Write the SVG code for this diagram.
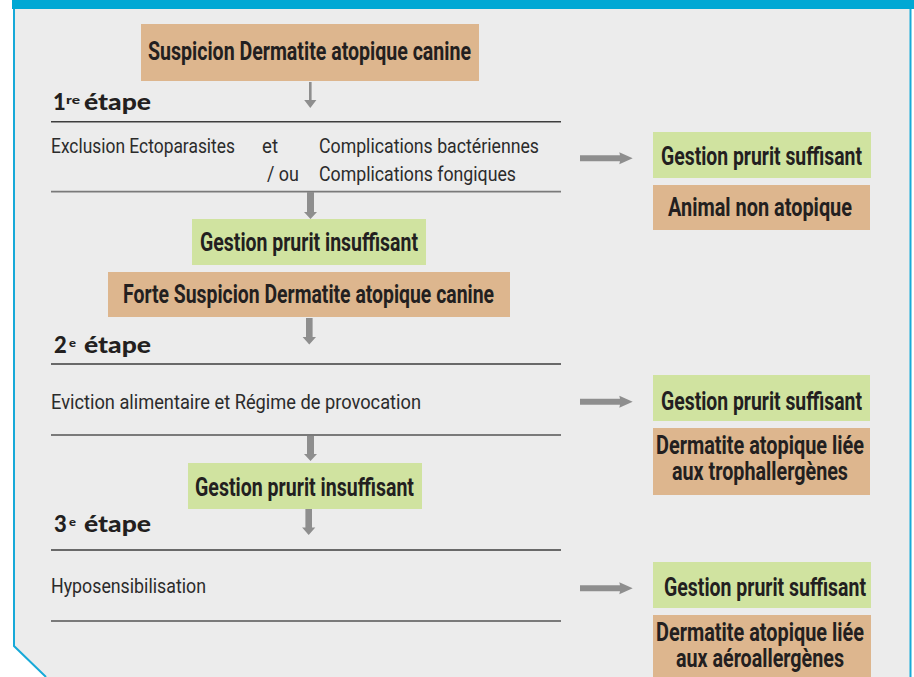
<svg xmlns="http://www.w3.org/2000/svg" width="914" height="677" viewBox="0 0 914 677">
<defs>
<style>
.bg{fill:#ececec}
.frame{fill:none;stroke:#17a9d8;stroke-width:2}
.tan{fill:#ddb68e}
.green{fill:#d0e3a0}
.bt{font-family:"Liberation Sans Narrow",Roboto,"Liberation Sans",sans-serif;font-weight:700;font-size:26px;fill:#231f20}
.rt{font-family:"Liberation Sans Narrow",Roboto,"Liberation Sans",sans-serif;font-weight:400;font-size:21px;fill:#2b2b2b}
.st{font-family:Lato,"Noto Sans",sans-serif;font-weight:900;font-size:22px;fill:#231f20}
.sup{font-family:Lato,"Noto Sans",sans-serif;font-weight:900;font-size:12px;fill:#231f20}
.ld{stroke:#3e3e3e;stroke-width:1.6}
.ll{stroke:#7a7a7a;stroke-width:1.8}
.arr{fill:#8e8e8e}
</style>
</defs>
<polygon class="bg" points="14,9 911,9 911,677 46,677 14,646"/>
<polyline class="frame" points="14,9 14,646 46,677"/>
<line class="frame" x1="910.5" y1="9" x2="910.5" y2="677"/>
<rect x="12" y="0" width="902" height="9" fill="#00a8d4"/>

<g id="n-suspicion">
<rect class="tan" x="141" y="24" width="338" height="57"/>
<text class="bt" x="148" y="60" textLength="323" lengthAdjust="spacingAndGlyphs">Suspicion Dermatite atopique canine</text>
</g>

<g id="n-etape1">
<text class="st" x="53" y="110">1</text>
<text class="sup" x="66" y="104" textLength="14" lengthAdjust="spacingAndGlyphs">re</text>
<text class="st" x="84" y="110" textLength="67" lengthAdjust="spacingAndGlyphs">étape</text>
<line class="ld" x1="51" y1="121.7" x2="561" y2="121.7"/>
<text class="rt" x="51" y="153" textLength="184" lengthAdjust="spacingAndGlyphs">Exclusion Ectoparasites</text>
<text class="rt" x="262" y="153" textLength="16" lengthAdjust="spacingAndGlyphs">et</text>
<text class="rt" x="319" y="153" textLength="220" lengthAdjust="spacingAndGlyphs">Complications bactériennes</text>
<text class="rt" x="267" y="181" textLength="32" lengthAdjust="spacingAndGlyphs">/ ou</text>
<text class="rt" x="319" y="181" textLength="197" lengthAdjust="spacingAndGlyphs">Complications fongiques</text>
<line class="ll" x1="51" y1="191.7" x2="561" y2="191.7"/>
</g>

<g id="n-suffisant1">
<rect class="green" x="653" y="132" width="218" height="46"/>
<text class="bt" x="661" y="165" textLength="201" lengthAdjust="spacingAndGlyphs">Gestion prurit suffisant</text>
</g>
<g id="n-nonatopique">
<rect class="tan" x="653" y="185" width="217" height="45"/>
<text class="bt" x="668" y="216" textLength="184" lengthAdjust="spacingAndGlyphs">Animal non atopique</text>
</g>

<g id="n-insuffisant1">
<rect class="green" x="192" y="219" width="234" height="46"/>
<text class="bt" x="200" y="251" textLength="218" lengthAdjust="spacingAndGlyphs">Gestion prurit insuffisant</text>
</g>
<g id="n-forte">
<rect class="tan" x="108" y="272" width="402" height="45"/>
<text class="bt" x="123" y="303" textLength="371" lengthAdjust="spacingAndGlyphs">Forte Suspicion Dermatite atopique canine</text>
</g>

<g id="n-etape2">
<text class="st" x="54" y="353">2</text>
<text class="sup" x="69" y="347" textLength="7" lengthAdjust="spacingAndGlyphs">e</text>
<text class="st" x="84" y="353" textLength="67" lengthAdjust="spacingAndGlyphs">étape</text>
<line class="ld" x1="51" y1="364" x2="561" y2="364"/>
<text class="rt" x="51" y="409" textLength="370" lengthAdjust="spacingAndGlyphs">Eviction alimentaire et Régime de provocation</text>
<line class="ll" x1="51" y1="435" x2="561" y2="435"/>
</g>

<g id="n-suffisant2">
<rect class="green" x="653" y="375" width="217" height="46"/>
<text class="bt" x="661" y="410" textLength="201" lengthAdjust="spacingAndGlyphs">Gestion prurit suffisant</text>
</g>
<g id="n-tropho">
<rect class="tan" x="653" y="428" width="217" height="67"/>
<text class="bt" x="656" y="454" textLength="208" lengthAdjust="spacingAndGlyphs">Dermatite atopique liée</text>
<text class="bt" x="672" y="480" textLength="176" lengthAdjust="spacingAndGlyphs">aux trophallergènes</text>
</g>

<g id="n-insuffisant2">
<rect class="green" x="188" y="463" width="234" height="46"/>
<text class="bt" x="195" y="496" textLength="219" lengthAdjust="spacingAndGlyphs">Gestion prurit insuffisant</text>
</g>

<g id="n-etape3">
<text class="st" x="54" y="532">3</text>
<text class="sup" x="69" y="526" textLength="7" lengthAdjust="spacingAndGlyphs">e</text>
<text class="st" x="84" y="532" textLength="67" lengthAdjust="spacingAndGlyphs">étape</text>
<line class="ld" x1="51" y1="550" x2="561" y2="550"/>
<text class="rt" x="51" y="593" textLength="155" lengthAdjust="spacingAndGlyphs">Hyposensibilisation</text>
<line class="ll" x1="51" y1="621" x2="561" y2="621"/>
</g>

<g id="n-suffisant3">
<rect class="green" x="653" y="562" width="218" height="46"/>
<text class="bt" x="664" y="596" textLength="202" lengthAdjust="spacingAndGlyphs">Gestion prurit suffisant</text>
</g>
<g id="n-aero">
<rect class="tan" x="653" y="615" width="218" height="62"/>
<text class="bt" x="656" y="641" textLength="208" lengthAdjust="spacingAndGlyphs">Dermatite atopique liée</text>
<text class="bt" x="676" y="667" textLength="168" lengthAdjust="spacingAndGlyphs">aux aéroallergènes</text>
</g>

<g id="connectors">
<polygon class="arr" points="309,82 311.6,82 311.6,100 316.4,100 310.3,108 304.2,100 309,100"/>
<polygon class="arr" points="307,192 314,192 314,212 317,212 310.5,219 304,212 307,212"/>
<polygon class="arr" points="306,318 312.6,318 312.6,337 316,337 309.3,344.5 302.6,337 306,337"/>
<polygon class="arr" points="307,436 314,436 314,454 317,454 310.5,461 304,454 307,454"/>
<polygon class="arr" points="305.4,509 312,509 312,527.5 315.3,527.5 308.7,535 302.1,527.5 305.4,527.5"/>
<polygon class="arr" points="580,155.3 620,155.3 619.3,152.3 632.7,158.3 619.3,164.3 620,161.3 580,161.3"/>
<polygon class="arr" points="580,398.7 620,398.7 619.3,395.7 632.7,401.7 619.3,407.7 620,404.7 580,404.7"/>
<polygon class="arr" points="580,585.3 620,585.3 619.3,582.3 632.7,588.3 619.3,594.3 620,591.3 580,591.3"/>
</g>
</svg>
